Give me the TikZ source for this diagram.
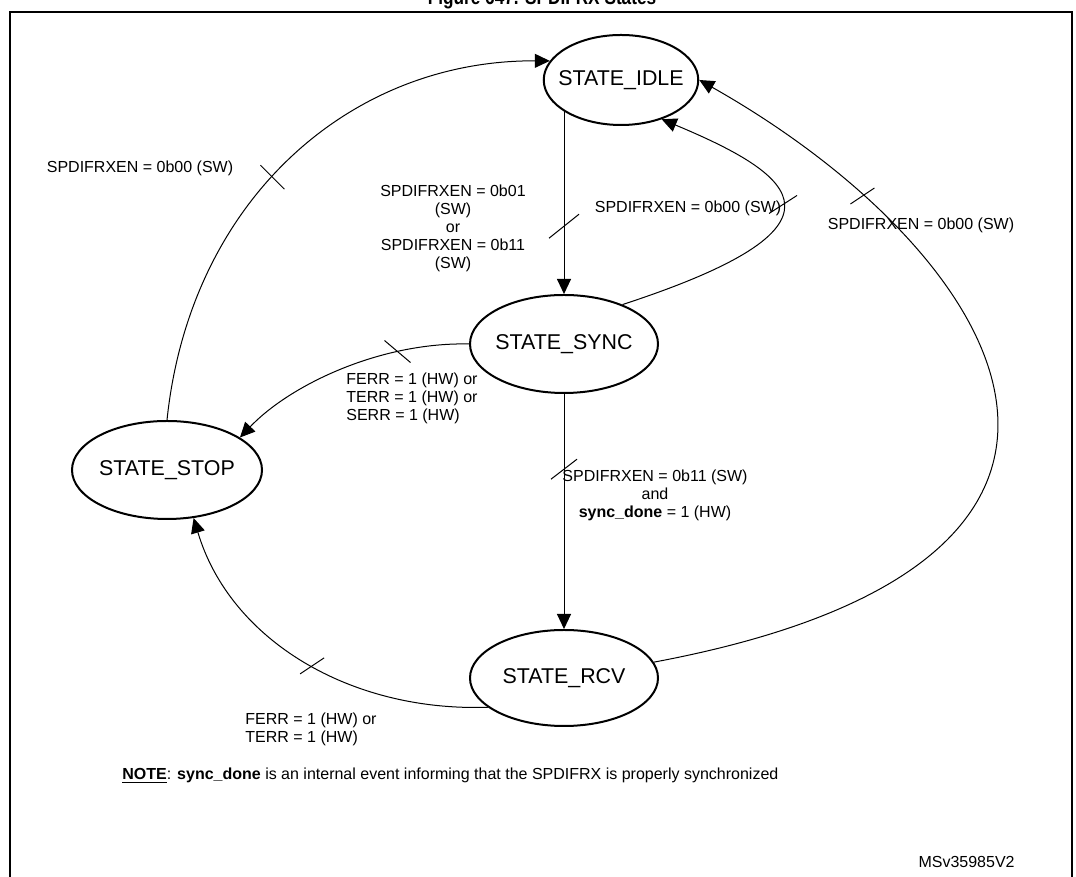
\documentclass[tikz,border=0pt]{standalone}
\usepackage{fontspec}
\setmainfont{Liberation Sans}
\usetikzlibrary{shapes.geometric,arrows.meta}

\begin{document}
\begin{tikzpicture}[x=0.5pt,y=0.5pt,
  state/.style={ellipse,draw,line width=1pt,inner ysep=0pt,inner xsep=-4pt,font=\fontsize{10.7}{12}\selectfont},
  trans/.style={line width=0.5pt,-{Triangle[length=7.5pt,width=7pt]}},
  cut/.style={line width=0.5pt},
  cond/.style={font=\fontsize{8}{9}\selectfont,inner sep=0pt,align=center}]
\path[use as bounding box] (0,0) rectangle (1076,877);
\draw[line width=1.2pt] (10,-5) -- (10,865) -- (1072,865) -- (1072,-5);
\node[anchor=base,font=\bfseries\fontsize{10.5}{12}\selectfont] (title) at (542,872) {\scalebox{.82}[1]{Figure 647. SPDIFRX States}};
% states
\node[state,minimum width=77pt,minimum height=45pt] (idle) at (621,797) {STATE\_IDLE};
\node[state,minimum width=94pt,minimum height=49pt] (sync) at (564,533) {STATE\_SYNC};
\node[state,minimum width=95pt,minimum height=49pt] (stop) at (167,407) {STATE\_STOP};
\node[state,minimum width=94pt,minimum height=48pt] (rcv) at (564,199) {STATE\_RCV};
% transitions
\draw[trans] (idle.208 -| sync.north) -- (sync.north) coordinate[pos=.63] (c1);
\draw[trans] (stop.north) .. controls (190,677) and (350,817) .. (idle.165) coordinate[pos=.45] (c2);
\draw[trans] (sync.34) .. controls (860,650) and (800,700) .. (idle.-44) coordinate[pos=.5] (c3);
\draw[trans] (rcv.10) .. controls (1200,317) and (1000,627) .. (idle.east) coordinate[pos=.8] (c4);
\draw[trans] (sync.west) .. controls (380,535) and (290,492) .. (stop.24) coordinate[pos=.27] (c5);
\draw[trans] (sync.south) -- (rcv.north) coordinate[pos=.32] (c6);
\draw[trans] (rcv.201) .. controls (350,165) and (230,237) .. (stop.-61) coordinate[pos=.47] (c7);
\draw[cut] (c1) +(-15,-12) -- +(15,12);
\draw[cut] (c2) +(-12,12) -- +(12,-12);
\draw[cut] (c3) +(-14,-9) -- +(14,9);
\draw[cut] (c4) +(-12,-8) -- +(12,8);
\draw[cut] (c5) +(-13,11) -- +(13,-11);
\draw[cut] (c6) +(-13,-10) -- +(13,10);
\draw[cut] (c7) +(-12,-8) -- +(12,8);
% conditions
\node[cond] (l1) at (453,649) {SPDIFRXEN = 0b01\\(SW)\\or\\SPDIFRXEN = 0b11\\(SW)};
\node[cond] (l2) at (688,669) {SPDIFRXEN = 0b00 (SW)};
\node[cond] (l3) at (921,652) {SPDIFRXEN = 0b00 (SW)};
\node[cond] (l4) at (140,709) {SPDIFRXEN = 0b00 (SW)};
\node[cond,align=left,anchor=west] (l5) at (346,479) {FERR = 1 (HW) or\\TERR = 1 (HW) or\\SERR = 1 (HW)};
\node[cond] (l6) at (655,382) {SPDIFRXEN = 0b11 (SW)\\and\\\textbf{sync\_done} = 1 (HW)};
\node[cond,align=left,anchor=west] (l7) at (245,148) {FERR = 1 (HW) or\\TERR = 1 (HW)};
\node[anchor=west,inner sep=0pt,font=\fontsize{8}{10}\selectfont] (note) at (122,101) {\underline{\textbf{NOTE}}: \textbf{sync\_done} is an internal event informing that the SPDIFRX is properly synchronized};
\node[anchor=east,inner sep=0pt,font=\fontsize{8}{9}\selectfont] (code) at (1015,15) {MSv35985V2};
\end{tikzpicture}
\end{document}
